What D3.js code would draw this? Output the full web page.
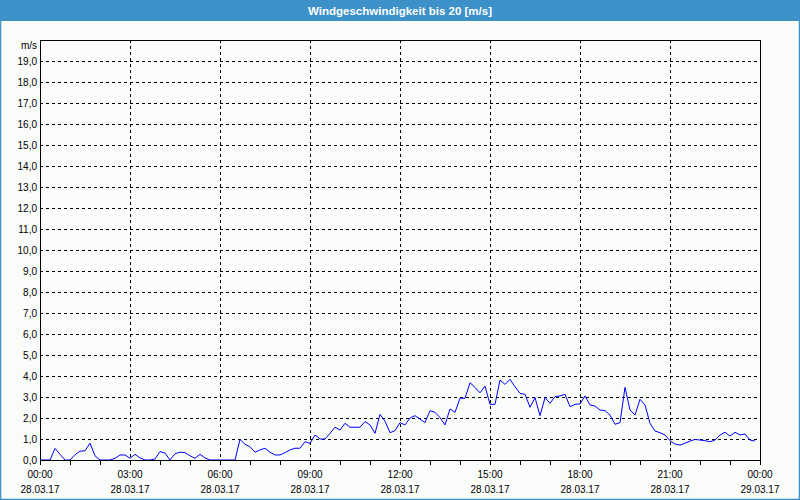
<!DOCTYPE html>
<html>
<head>
<meta charset="utf-8">
<script src="https://cdn.jsdelivr.net/npm/d3@7"></script>
<style>
html,body{margin:0;padding:0;background:#fff;}
svg{display:block;}
</style>
</head>
<body>
<svg id="chart" width="800" height="500"></svg>
<script>
// ---- data ----
const title = "Windgeschwindigkeit bis 20 [m/s]";
const unitLabel = "m/s";
const startTime = "2017-03-28T00:00";
const endTime = "2017-03-29T00:00";
const stepMinutes = 10;
// wind speed every 10 minutes from 00:00 to 23:50
const windSpeed = [
  0, 0, 0, 0.55, 0.27, 0, 0, 0.25, 0.42, 0.44,
  0.8, 0.2, 0, 0, 0, 0.08, 0.24, 0.24, 0.08, 0.27,
  0.1, 0, 0, 0.05, 0.4, 0.33, 0, 0.3, 0.37, 0.35,
  0.2, 0.08, 0.27, 0.1, 0, 0, 0, 0, 0, 0,
  0.98, 0.75, 0.63, 0.37, 0.48, 0.56, 0.37, 0.24, 0.24, 0.35,
  0.48, 0.56, 0.56, 0.87, 0.79, 1.19, 1.0, 1.0, 1.27, 1.56,
  1.43, 1.75, 1.56, 1.56, 1.56, 1.83, 1.67, 1.27, 2.17, 1.85,
  1.3, 1.4, 1.78, 1.67, 2.0, 2.11, 1.95, 1.78, 2.35, 2.27,
  2.02, 1.67, 2.43, 2.27, 2.94, 2.94, 3.68, 3.46, 3.2, 3.52,
  2.65, 2.65, 3.81, 3.6, 3.84, 3.49, 3.17, 3.13, 2.51, 2.97,
  2.11, 2.97, 2.7, 3.02, 3.05, 3.13, 2.54, 2.65, 2.67, 3.05,
  2.62, 2.57, 2.38, 2.35, 2.14, 1.7, 1.78, 3.46, 2.38, 2.14,
  2.89, 2.62, 1.75, 1.38, 1.3, 1.19, 0.92, 0.76, 0.71, 0.8,
  0.9, 0.98, 0.95, 0.92, 0.87, 0.95, 1.19, 1.32, 1.14, 1.32,
  1.19, 1.24, 0.95, 0.9
];
const yTicks = [0,1,2,3,4,5,6,7,8,9,10,11,12,13,14,15,16,17,18,19];
const xMajorHours = [0,3,6,9,12,15,18,21,24];

// ---- chart ----
const W = 800, H = 500;
const svg = d3.select("#chart");
const fontFam = "'Liberation Sans', Arial, sans-serif";

svg.append("rect").attr("x",0).attr("y",0).attr("width",W).attr("height",H).attr("fill","#fafcfa");

// title bar
svg.append("rect").attr("x",0).attr("y",0).attr("width",W).attr("height",21).attr("fill","#3c91c8");
svg.append("text").attr("x",W/2).attr("y",10.5).attr("text-anchor","middle")
  .attr("dominant-baseline","central").attr("fill","#ffffff")
  .attr("font-family",fontFam).attr("font-size","11.5px").attr("font-weight","bold").text(title);
// outer border
svg.append("rect").attr("x",0.5).attr("y",0.5).attr("width",W-1).attr("height",H-1)
  .attr("fill","none").attr("stroke","#3c91c8").attr("stroke-width",1.5);

const parse = d3.timeParse("%Y-%m-%dT%H:%M");
const t0 = parse(startTime), t1 = parse(endTime);
const x = d3.scaleTime().domain([t0,t1]).range([40,760]);
const y = d3.scaleLinear().domain([0,20]).range([460,40]);

const data = windSpeed.map((v,i)=>({t:d3.timeMinute.offset(t0,i*stepMinutes), v}));

const g = svg.append("g");

// horizontal grid
g.selectAll(".hg").data(yTicks.filter(d=>d>0)).enter().append("line")
  .attr("x1",40).attr("x2",760).attr("y1",d=>Math.round(y(d))+0.5).attr("y2",d=>Math.round(y(d))+0.5)
  .attr("stroke","#000").attr("stroke-width",1).attr("stroke-dasharray","3,3");
// vertical grid
const majors = xMajorHours.map(h=>d3.timeHour.offset(t0,h));
g.selectAll(".vg").data(majors.slice(1,-1)).enter().append("line")
  .attr("x1",d=>Math.round(x(d))+0.5).attr("x2",d=>Math.round(x(d))+0.5)
  .attr("y1",40).attr("y2",460)
  .attr("stroke","#000").attr("stroke-width",1).attr("stroke-dasharray","3,3");

// data line
const line = d3.line().x(d=>x(d.t)).y(d=>y(d.v));
g.append("path").datum(data).attr("d",line).attr("fill","none")
  .attr("stroke","#0000ff").attr("stroke-width",1);

// frame
g.append("rect").attr("x",40.5).attr("y",40.5).attr("width",720).attr("height",420)
  .attr("fill","none").attr("stroke","#000").attr("stroke-width",1);

// hourly ticks
const hours = d3.timeHour.range(t0, d3.timeHour.offset(t1,1));
g.selectAll(".tk").data(hours).enter().append("line")
  .attr("x1",d=>Math.round(x(d))+0.5).attr("x2",d=>Math.round(x(d))+0.5)
  .attr("y1",460).attr("y2",465).attr("stroke","#000").attr("stroke-width",1);

// y labels
const fmtY = v => d3.format(".1f")(v).replace(".",",");
g.selectAll(".yl").data(yTicks).enter().append("text")
  .attr("x",37).attr("y",d=>y(d)).attr("text-anchor","end").attr("dominant-baseline","central")
  .attr("font-family",fontFam).attr("font-size","10px").attr("fill","#000").text(fmtY);
g.append("text").attr("x",37).attr("y",45).attr("text-anchor","end").attr("dominant-baseline","central")
  .attr("font-family",fontFam).attr("font-size","10px").attr("fill","#000").text(unitLabel);

// x labels
const fmtT = d3.timeFormat("%H:%M"), fmtD = d3.timeFormat("%d.%m.%y");
g.selectAll(".xl1").data(majors).enter().append("text")
  .attr("x",d=>x(d)).attr("y",474).attr("text-anchor","middle").attr("dominant-baseline","central")
  .attr("font-family",fontFam).attr("font-size","10px").attr("fill","#000").text(fmtT);
g.selectAll(".xl2").data(majors).enter().append("text")
  .attr("x",d=>x(d)).attr("y",489).attr("text-anchor","middle").attr("dominant-baseline","central")
  .attr("font-family",fontFam).attr("font-size","10px").attr("fill","#000").text(fmtD);
</script>
</body>
</html>
